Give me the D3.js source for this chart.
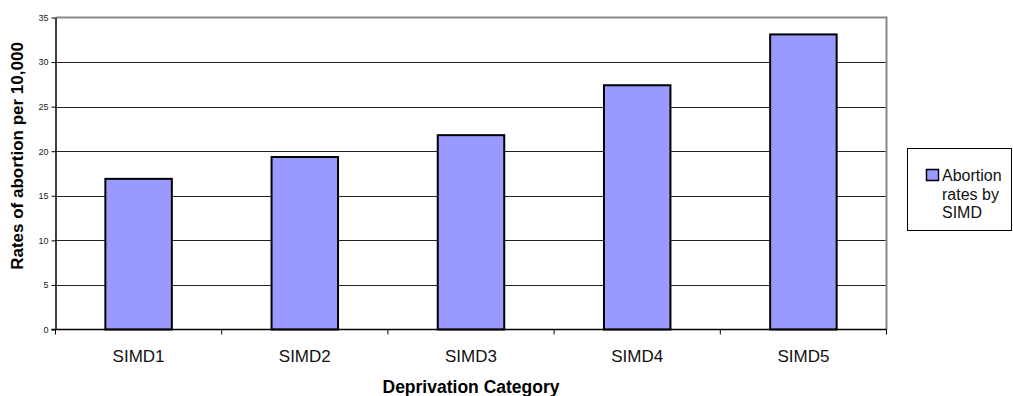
<!DOCTYPE html>
<html>
<head>
<meta charset="utf-8">
<script src="https://cdn.jsdelivr.net/npm/d3@7"></script>
<style>
	body { margin: 0; background: #fff; }
	text { font-family: Arial, "Liberation Sans", sans-serif; }
</style>
</head>
<body>
<svg id="chart" width="1013" height="396"></svg>
<script>
const categories = ["SIMD1", "SIMD2", "SIMD3", "SIMD4", "SIMD5"];
const rates = [16.9, 19.35, 21.8, 27.4, 33.1];
const yTicks = [0, 5, 10, 15, 20, 25, 30, 35];
const seriesName = ["Abortion", "rates by", "SIMD"];

const svg = d3.select("#chart");
const plot = { left: 55.5, right: 886.5, top: 17.5, bottom: 329.5 };

const x = d3.scaleBand()
	.domain(categories)
	.range([plot.left, plot.right])
	.paddingInner(0.6)
	.paddingOuter(0.3);

// band edges for the tick marks
const xEdges = d3.scaleLinear().domain([0, categories.length]).range([plot.left, plot.right]);

const y = d3.scaleLinear().domain([0, 35]).range([plot.bottom, plot.top]);

// gridlines
svg.append("g")
	.selectAll("line")
	.data(yTicks.filter(d => d > 0 && d < 35))
	.enter().append("line")
	.attr("x1", plot.left).attr("x2", plot.right)
	.attr("y1", d => Math.round(y(d)) + 0.5).attr("y2", d => Math.round(y(d)) + 0.5)
	.attr("stroke", "#222").attr("stroke-width", 1);

// plot border top and right
svg.append("path")
	.attr("d", `M${plot.left},${plot.top}H${plot.right}V${plot.bottom}`)
	.attr("fill", "none").attr("stroke", "#888").attr("stroke-width", 2);

// bars
svg.append("g")
	.selectAll("rect")
	.data(rates)
	.enter().append("rect")
	.attr("x", (d, i) => x(categories[i]))
	.attr("y", d => y(d))
	.attr("width", x.bandwidth())
	.attr("height", d => plot.bottom - y(d))
	.attr("fill", "#9999ff")
	.attr("stroke", "#000")
	.attr("stroke-width", 2);

// y axis
const yAxis = svg.append("g")
	.attr("transform", `translate(${plot.left},0)`)
	.call(d3.axisLeft(y).tickValues(yTicks).tickSize(4).tickSizeOuter(0));
yAxis.select(".domain").attr("stroke", "#000").attr("stroke-width", 1.5);
yAxis.selectAll(".tick line").attr("stroke", "#000");
yAxis.selectAll(".tick text")
	.attr("font-size", 9).attr("fill", "#222").attr("x", -7)
	.style("font-family", "Arial, 'Liberation Sans', sans-serif");

// x axis
const xAxis = svg.append("g")
	.attr("transform", `translate(0,${plot.bottom})`);
xAxis.append("line")
	.attr("x1", plot.left - 4).attr("x2", plot.right)
	.attr("stroke", "#000").attr("stroke-width", 1.5);
xAxis.selectAll(".edge")
	.data(d3.range(categories.length + 1))
	.enter().append("line")
	.attr("class", "edge")
	.attr("x1", d => xEdges(d)).attr("x2", d => xEdges(d))
	.attr("y1", 0).attr("y2", 5)
	.attr("stroke", "#000");
xAxis.selectAll(".lbl")
	.data(categories)
	.enter().append("text")
	.attr("class", "lbl")
	.attr("x", d => x(d) + x.bandwidth() / 2)
	.attr("y", 32)
	.attr("text-anchor", "middle")
	.attr("font-size", 17)
	.attr("fill", "#111")
	.text(d => d);

// axis titles
svg.append("text")
	.attr("x", (plot.left + plot.right) / 2).attr("y", 393)
	.attr("text-anchor", "middle")
	.attr("font-size", 17.5).attr("font-weight", "bold")
	.text("Deprivation Category");

svg.append("text")
	.attr("transform", "translate(23,156) rotate(-90)")
	.attr("text-anchor", "middle")
	.attr("font-size", 17).attr("font-weight", "bold")
	.text("Rates of abortion per 10,000");

// legend
const legend = svg.append("g");
legend.append("rect")
	.attr("x", 907.5).attr("y", 148.5).attr("width", 104).attr("height", 82)
	.attr("fill", "#fff").attr("stroke", "#000").attr("stroke-width", 1);
legend.append("rect")
	.attr("x", 926.5).attr("y", 169.5).attr("width", 12).attr("height", 11)
	.attr("fill", "#9999ff").attr("stroke", "#000").attr("stroke-width", 1.5);
legend.selectAll(".ltxt")
	.data(seriesName)
	.enter().append("text")
	.attr("class", "ltxt")
	.attr("x", 942)
	.attr("y", (d, i) => 181 + i * 18.5)
	.attr("font-size", 16)
	.attr("fill", "#111")
	.text(d => d);
</script>
</body>
</html>
